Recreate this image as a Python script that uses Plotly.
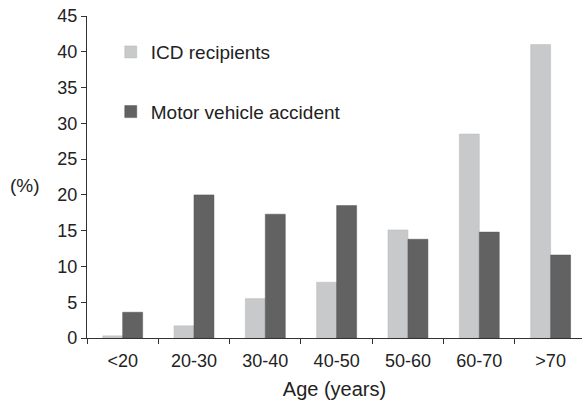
import plotly.graph_objects as go

categories = ["<20", "20-30", "30-40", "40-50", "50-60", "60-70", ">70"]
icd_recipients = [0.3, 1.7, 5.5, 7.8, 15.1, 28.5, 41.0]
motor_vehicle = [3.6, 20.0, 17.3, 18.5, 13.8, 14.8, 11.6]
y_ticks = [0, 5, 10, 15, 20, 25, 30, 35, 40, 45]

FONT = "Liberation Sans, Arial, sans-serif"

fig = go.Figure()
fig.add_trace(go.Bar(
    x=categories, y=icd_recipients, name="ICD recipients",
    marker=dict(color="#c8c9cb", line=dict(color="#b8b9bb", width=0.5)),
    legendgroup="a",
))
fig.add_trace(go.Bar(
    x=categories, y=motor_vehicle, name="Motor vehicle accident",
    marker=dict(color="#626262", line=dict(color="#555555", width=0.5)),
    legendgroup="b",
))

fig.update_layout(
    width=582, height=405,
    margin=dict(l=87, r=0, t=16, b=67, autoexpand=False),
    paper_bgcolor="white", plot_bgcolor="white",
    font=dict(family=FONT, color="#222222", size=18),
    barmode="group", bargap=0.44, bargroupgap=0,
    showlegend=True,
    legend=dict(
        x=0.048, y=0.947, xanchor="left", yanchor="top",
        font=dict(size=19, family=FONT, color="#222222"),
        tracegroupgap=32, bgcolor="rgba(0,0,0,0)",
        itemwidth=30,
    ),
    xaxis=dict(
        range=[-0.5, 6.44], automargin=False,
        showline=True, linecolor="#333333", linewidth=1.2,
        ticks="outside", tickson="boundaries", ticklen=5, tickcolor="#333333",
        tickfont=dict(size=18), showgrid=False, ticklabelstandoff=6,
        title=dict(text="Age (years)", font=dict(size=20), standoff=12),
    ),
    yaxis=dict(
        range=[0, 45], tickvals=y_ticks, automargin=False,
        showline=True, linecolor="#333333", linewidth=1.2,
        ticks="outside", ticklen=5, tickcolor="#333333",
        tickfont=dict(size=18), showgrid=False, zeroline=False,
    ),
    annotations=[dict(
        text="(%)", xref="paper", yref="paper", x=-0.125, y=0.475,
        xanchor="center", yanchor="middle", showarrow=False,
        font=dict(size=19, family=FONT, color="#222222"),
    )],
)

fig.write_html("out.html", config={"displayModeBar": False},
               post_script="document.body.style.margin='0';")
